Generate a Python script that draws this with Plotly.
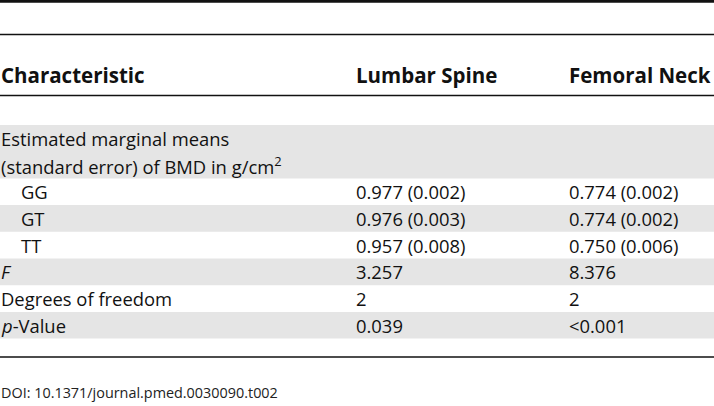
import plotly.graph_objects as go

# ---- data ----
headers = ["Characteristic", "Lumbar Spine", "Femoral Neck"]
row_labels = [
    "Estimated marginal means<br>(standard error) of BMD in g/cm<sup>2</sup>",
    "GG", "GT", "TT",
    "<i>F</i>", "Degrees of freedom", "<i>p</i>-Value",
]
row_indent = [0, 1, 1, 1, 0, 0, 0]
lumbar_spine = ["", "0.977 (0.002)", "0.976 (0.003)", "0.957 (0.008)", "3.257", "2", "0.039"]
femoral_neck = ["", "0.774 (0.002)", "0.774 (0.002)", "0.750 (0.006)", "8.376", "2", "&lt;0.001"]
footnote = "DOI: 10.1371/journal.pmed.0030090.t002"

# ---- layout constants ----
W, H = 714, 406
FONT = "Open Sans"
FS = 18.4
FS_HEAD = 20.5
col_x = [2, 357, 570]
x_nudge = -3
indent_px = 20
line_h = 26.7
body_top = 125
header_y = 75
rule_top = 1.2
rule2 = 34.5
rule3 = 95.5
rule_bottom = 357
foot_y = 392
gray = "#e5e5e5"
ink = "#111111"

fig = go.Figure()
fig.add_trace(go.Scatter(x=[0, W], y=[0, H], mode="markers",
                         marker=dict(opacity=0), hoverinfo="skip", showlegend=False))

shapes = []
annotations = []

def txt(x, y, s, bold=False, size=FS, color=ink):
    annotations.append(dict(
        x=x, y=y, xref="x", yref="y", text=s, showarrow=False,
        xanchor="left", yanchor="middle", align="left", xshift=x_nudge,
        font=dict(family=FONT, size=size, color=color,
                  weight="bold" if bold else "normal"),
    ))

# header
for cx, h in zip(col_x, headers):
    txt(cx, header_y, h, bold=True, size=FS_HEAD)

# body rows
y = body_top
for i, label in enumerate(row_labels):
    lines = label.split("<br>")
    h = len(lines) * line_h
    if i % 2 == 0:
        shapes.append(dict(type="rect", xref="x", yref="y", x0=0, x1=W,
                           y0=y, y1=y + h, fillcolor=gray, line=dict(width=0),
                           layer="below"))
    for j, ln in enumerate(lines):
        cy = y + (j + 0.5) * line_h
        txt(col_x[0] + row_indent[i] * indent_px, cy, ln)
    cy_mid = y + 0.5 * line_h
    if lumbar_spine[i]:
        txt(col_x[1], cy_mid, lumbar_spine[i])
    if femoral_neck[i]:
        txt(col_x[2], cy_mid, femoral_neck[i])
    y += h

# rules
for yy, wdt in [(rule_top, 3), (rule2, 1.6), (rule3, 1.6), (rule_bottom, 1.6)]:
    shapes.append(dict(type="line", xref="x", yref="y", x0=0, x1=W, y0=yy, y1=yy,
                       line=dict(color=ink, width=wdt)))

# footnote
txt(col_x[0], foot_y, footnote, size=14.4, color="#222222")

fig.update_layout(
    width=W, height=H, margin=dict(l=0, r=0, t=0, b=0),
    paper_bgcolor="white", plot_bgcolor="white",
    xaxis=dict(range=[0, W], visible=False, fixedrange=True),
    yaxis=dict(range=[H, 0], visible=False, fixedrange=True),
    shapes=shapes, annotations=annotations, showlegend=False,
)
fig.write_html(
    "out.html",
    config={"displayModeBar": False},
    post_script="document.body.style.margin='0';document.body.style.overflow='hidden';",
)
